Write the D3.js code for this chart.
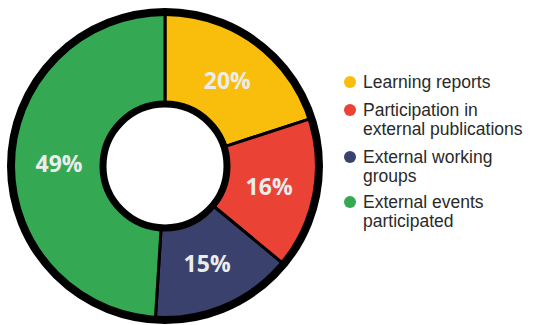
<!DOCTYPE html>
<html>
<head>
<meta charset="utf-8">
<script src="https://cdn.jsdelivr.net/npm/d3@7"></script>
<style>
  html, body { margin: 0; padding: 0; background: #fff; }
  svg { display: block; }
</style>
</head>
<body>
<svg id="chart" width="534" height="325"></svg>
<script>
// Share of engagement activities
const categories = ["Learning reports", "Participation in external publications", "External working groups", "External events participated"];
const legendLines = [["Learning reports"], ["Participation in", "external publications"], ["External working", "groups"], ["External events", "participated"]];
const values = [20, 16, 15, 49];
const colors = ["#F9BE0B", "#EA4335", "#3B416D", "#34A853"];

const svg = d3.select("#chart");
const cx = 165, cy = 166;
const innerR = 62, outerR = 154;

const pie = d3.pie().sort(null).value(d => d.value);
const arcs = pie(categories.map((c, i) => ({ name: c, value: values[i], color: colors[i] })));

const arc = d3.arc().innerRadius(innerR).outerRadius(outerR);
const labelArc = d3.arc().innerRadius(106).outerRadius(106);

const g = svg.append("g").attr("transform", `translate(${cx},${cy})`);

// slices with black dividers
g.selectAll("path.slice")
  .data(arcs)
  .join("path")
  .attr("class", "slice")
  .attr("d", arc)
  .attr("fill", d => d.data.color)
  .attr("stroke", "#000")
  .attr("stroke-width", 3)
  .attr("stroke-linejoin", "round");

// thick outer and inner rings
g.append("circle").attr("r", outerR).attr("fill", "none").attr("stroke", "#000").attr("stroke-width", 8);
g.append("circle").attr("r", innerR).attr("fill", "#fff").attr("stroke", "#000").attr("stroke-width", 7);

// percentage labels
g.selectAll("text.pct")
  .data(arcs)
  .join("text")
  .attr("class", "pct")
  .attr("transform", d => `translate(${labelArc.centroid(d)})`)
  .attr("text-anchor", "middle")
  .attr("dominant-baseline", "central")
  .attr("font-family", "'Open Sans', sans-serif")
  .attr("font-weight", 700)
  .attr("font-size", 23)
  .attr("fill", "#ECECEC")
  .text(d => d.data.value + "%");

// legend
const legend = svg.append("g").attr("transform", "translate(350,0)");
const rowBaselines = [88, 116, 163, 208];
const lineH = 19;
legendLines.forEach((lines, i) => {
  const row = legend.append("g");
  row.append("circle")
    .attr("cx", 0).attr("cy", rowBaselines[i] - 6)
    .attr("r", 6)
    .attr("fill", colors[i]);
  const t = row.append("text")
    .attr("x", 13).attr("y", rowBaselines[i])
    .attr("font-family", "'Liberation Sans', Arial, sans-serif")
    .attr("font-size", 17.5)
    .attr("fill", "#2a2a2a");
  lines.forEach((ln, j) => {
    t.append("tspan").attr("x", 13).attr("y", rowBaselines[i] + j * lineH).text(ln);
  });
});
</script>
</body>
</html>
